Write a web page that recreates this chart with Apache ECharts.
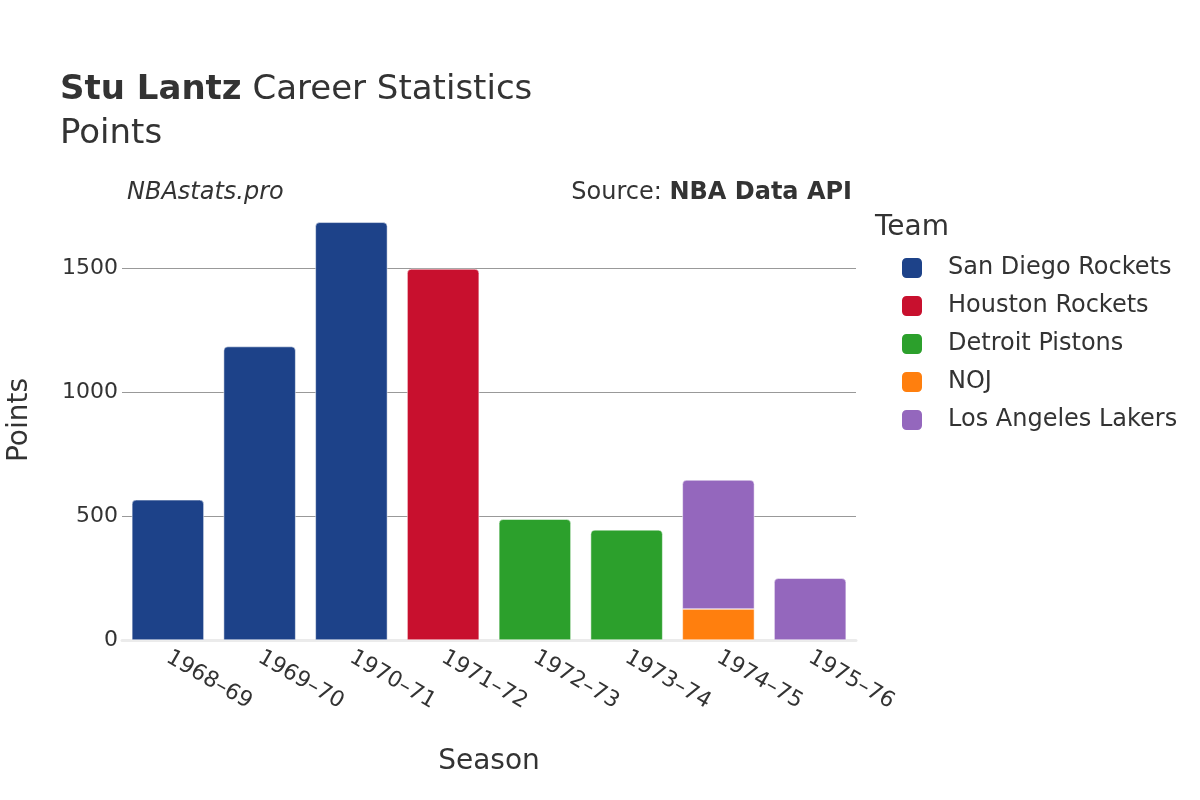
<!DOCTYPE html>
<html>
<head>
<meta charset="utf-8">
<script src="https://cdn.jsdelivr.net/npm/echarts@6/dist/echarts.min.js"></script>
<style>
html,body{margin:0;padding:0;background:#fff;}
#chart{width:1200px;height:800px;}
</style>
</head>
<body>
<div id="chart"></div>
<script>
const seasons = ['1968–69','1969–70','1970–71','1971–72','1972–73','1973–74','1974–75','1975–76'];
const teams = ['San Diego Rockets','Houston Rockets','Detroit Pistons','NOJ','Los Angeles Lakers'];
const teamColors = ['#1d4289','#c8102e','#2ca02c','#ff7f0e','#9467bd'];
const sanDiego = [565, 1183, 1684, null, null, null, null, null];
const houston  = [null, null, null, 1496, null, null, null, null];
const detroit  = [null, null, null, null, 487, 444, null, null];
const noj      = [null, null, null, null, null, null, 125, null];
const lakers   = [null, null, null, null, null, null, 520, 249];
const seriesValues = [sanDiego, houston, detroit, noj, lakers];
const yTicks = [0, 500, 1000, 1500];

const FONT = 'DejaVu Sans';
const chart = echarts.init(document.getElementById('chart'));
const series = teams.map((t, i) => ({
  name: t,
  type: 'bar',
  stack: 'total',
  barWidth: 72,
  data: seriesValues[i],
  itemStyle: {
    color: teamColors[i],
    borderColor: '#ffffff',
    borderWidth: 0.5,
    borderRadius: (t === 'NOJ') ? 0 : [4, 4, 0, 0]
  }
}));

chart.setOption({
  animation: false,
  textStyle: { fontFamily: FONT },
  title: [
    { text: '{b|Stu Lantz} Career Statistics', left: 60, top: 73, padding: 0,
      textStyle: { fontFamily: FONT, fontSize: 34, color: '#333', fontWeight: 'normal',
        rich: { b: { fontFamily: FONT, fontSize: 34, fontWeight: 'bold', color: '#333' } } } },
    { text: 'Points', left: 60, top: 117, padding: 0, textStyle: { fontFamily: FONT, fontSize: 34, color: '#333', fontWeight: 'normal' } },
    { text: 'NBAstats.pro', left: 127, top: 181, padding: 0, textStyle: { fontFamily: FONT, fontSize: 24, fontStyle: 'italic', color: '#333', fontWeight: 'normal' } },
    { text: 'Source: {b|NBA Data API}', right: 348, top: 181, padding: 0,
      textStyle: { fontFamily: FONT, fontSize: 24, color: '#333', fontWeight: 'normal',
        rich: { b: { fontFamily: FONT, fontSize: 24, fontWeight: 'bold', color: '#333' } } } },
    { text: 'Team', left: 875, top: 214, padding: 0, textStyle: { fontFamily: FONT, fontSize: 28, color: '#333', fontWeight: 'normal' } }
  ],
  legend: {
    orient: 'vertical',
    left: 900,
    top: 256,
    padding: 0,
    itemWidth: 22,
    itemHeight: 22,
    itemGap: 14,
    icon: 'roundRect',
    data: teams,
    textStyle: { fontFamily: FONT, fontSize: 24, color: '#333', padding: [0, 0, 0, 20] }
  },
  grid: { left: 122, right: 344, top: 200, bottom: 160, containLabel: false, outerBoundsMode: 'none' },
  xAxis: {
    type: 'category',
    data: seasons,
    name: 'Season',
    nameLocation: 'middle',
    nameGap: 108,
    nameTextStyle: { fontFamily: FONT, fontSize: 28, color: '#333' },
    axisLine: { show: true, lineStyle: { color: '#ebebeb', width: 3 } },
    axisTick: { show: false },
    axisLabel: { rotate: -30, fontFamily: FONT, fontSize: 22, color: '#333', margin: 16, align: 'left' }
  },
  yAxis: {
    type: 'value',
    min: 0,
    max: 1774,
    interval: 500,
    name: 'Points',
    nameLocation: 'middle',
    nameGap: 88,
    nameTextStyle: { fontFamily: FONT, fontSize: 28, color: '#333' },
    axisLine: { show: false },
    axisTick: { show: false },
    axisLabel: { fontFamily: FONT, fontSize: 22, color: '#333', margin: 4, showMaxLabel: false,
      formatter: v => yTicks.includes(v) ? String(v) : '' },
    splitLine: { lineStyle: { color: '#999', width: 1 }, showMaxLine: false }
  },
  series: series
});
</script>
</body>
</html>
